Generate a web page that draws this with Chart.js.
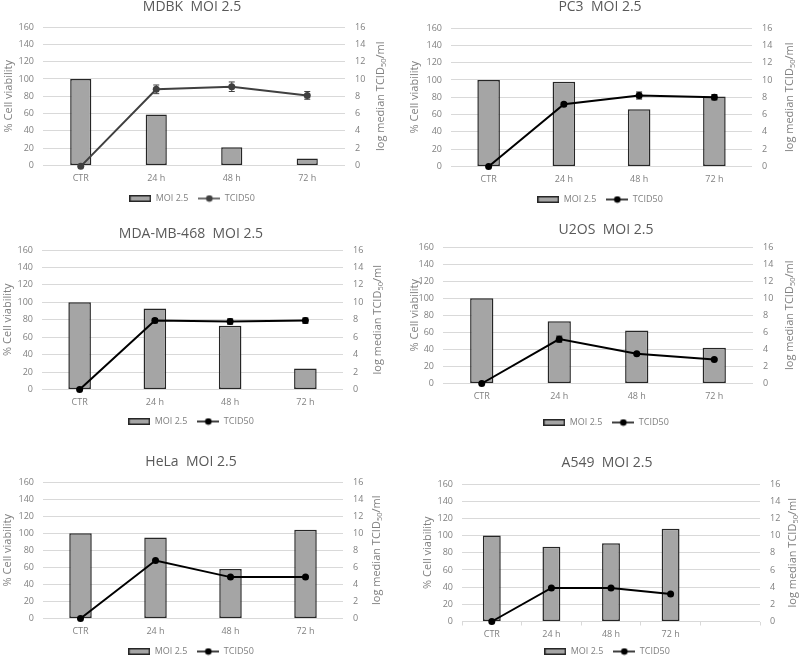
<!DOCTYPE html>
<html>
<head>
<meta charset="utf-8">
<script src="https://cdn.jsdelivr.net/npm/chart.js@4.4.1/dist/chart.umd.min.js"></script>
<style>
  body { margin: 0; background: #fff; width: 800px; height: 657px; overflow: hidden; position: relative; }
  canvas { position: absolute; }
</style>
</head>
<body>
<script>
// time points
const timeLabels = ['CTR', '24 h', '48 h', '72 h'];

// % cell viability (bars, left axis)
const mdbkViability = [100, 59, 21, 8];
const pc3Viability = [100, 98, 66, 81];
const mdaViability = [100, 93, 73, 24];
const u2osViability = [100, 73, 62, 42];
const helaViability = [100, 95, 58, 104];
const a549Viability = [100, 87, 91, 108];

// log median TCID50/ml (line, right axis) and error bars
const mdbkTcid = [-0.1, 8.8, 9.1, 8.1];
const mdbkErr = [0, 0.5, 0.55, 0.45];
const pc3Tcid = [0, 7.2, 8.2, 8.0];
const pc3Err = [0, 0.2, 0.4, 0.3];
const mdaTcid = [0, 7.9, 7.8, 7.9];
const mdaErr = [0, 0.25, 0.3, 0.3];
const u2osTcid = [0, 5.2, 3.5, 2.8];
const u2osErr = [0, 0.35, 0.15, 0.1];
const helaTcid = [0, 6.8, 4.85, 4.85];
const a549Tcid = [0, 3.9, 3.9, 3.2];

const FONT = "'Open Sans', 'DejaVu Sans', sans-serif";

// draws the axis titles (Excel style, both rotated) and the error bars
const panelExtras = {
    id: 'panelExtras',
    afterDatasetsDraw(chart, args, opts) {
        const ctx = chart.ctx;
        chart.data.datasets.forEach((ds, i) => {
            if (!ds.errors) return;
            const meta = chart.getDatasetMeta(i);
            const ys = chart.scales[ds.yAxisID];
            ctx.save();
            ctx.strokeStyle = ds.borderColor;
            ctx.lineWidth = 1;
            meta.data.forEach((pt, j) => {
                const e = ds.errors[j];
                if (!e) return;
                const top = ys.getPixelForValue(ds.data[j] + e);
                const bot = ys.getPixelForValue(ds.data[j] - e);
                ctx.beginPath();
                ctx.moveTo(pt.x, top); ctx.lineTo(pt.x, bot);
                ctx.moveTo(pt.x - 3, top); ctx.lineTo(pt.x + 3, top);
                ctx.moveTo(pt.x - 3, bot); ctx.lineTo(pt.x + 3, bot);
                ctx.stroke();
            });
            ctx.restore();
        });
    },
    afterDraw(chart, args, opts) {
        const ctx = chart.ctx;
        const area = chart.chartArea;
        const cy = (area.top + area.bottom) / 2;
        ctx.save();
        ctx.fillStyle = '#808080';
        ctx.textBaseline = 'middle';
        // left
        ctx.font = '11px ' + FONT;
        ctx.save();
        ctx.translate(opts.leftX, cy);
        ctx.rotate(-Math.PI / 2);
        ctx.textAlign = 'center';
        ctx.fillText('% Cell viability', 0, 0);
        ctx.restore();
        // right, with subscript
        const p1 = 'log median TCID', p2 = '50', p3 = '/ml';
        ctx.font = '11px ' + FONT;
        const w1 = ctx.measureText(p1).width, w3 = ctx.measureText(p3).width;
        ctx.font = '7.5px ' + FONT;
        const w2 = ctx.measureText(p2).width;
        const total = w1 + w2 + w3;
        ctx.translate(opts.rightX, cy);
        ctx.rotate(-Math.PI / 2);
        ctx.textAlign = 'left';
        let x = -total / 2;
        ctx.font = '11px ' + FONT;
        ctx.fillText(p1, x, 0);
        x += w1;
        ctx.font = '7.5px ' + FONT;
        ctx.fillText(p2, x, 3);
        x += w2;
        ctx.font = '11px ' + FONT;
        ctx.fillText(p3, x, 0);
        ctx.restore();
    }
};
Chart.register(panelExtras);

function barIcon() {
    const c = document.createElement('canvas');
    c.width = 22; c.height = 7;
    const g = c.getContext('2d');
    g.fillStyle = '#a5a5a5';
    g.fillRect(0, 0, 22, 7);
    g.strokeStyle = '#262626';
    g.lineWidth = 1.5;
    g.strokeRect(0.75, 0.75, 20.5, 5.5);
    return c;
}

function lineIcon(color) {
    const c = document.createElement('canvas');
    c.width = 22; c.height = 8;
    const g = c.getContext('2d');
    g.strokeStyle = color;
    g.fillStyle = color;
    g.lineWidth = 1.5;
    g.beginPath(); g.moveTo(0, 4); g.lineTo(22, 4); g.stroke();
    g.beginPath(); g.arc(11, 4, 3.3, 0, Math.PI * 2); g.fill();
    return c;
}

function makePanel(p) {
    const canvas = document.createElement('canvas');
    canvas.width = 400;
    canvas.height = p.h;
    canvas.style.left = p.left + 'px';
    canvas.style.top = p.top + 'px';
    document.body.appendChild(canvas);

    const labels = p.labels || timeLabels;
    const a = p.padL || 0, b = p.padR || 0;
    const lineColor = p.lineColor || '#000000';
    const icons = [barIcon(), lineIcon(lineColor)];

    new Chart(canvas.getContext('2d'), {
        data: {
            labels: labels,
            datasets: [{
                type: 'line',
                label: 'TCID50',
                data: p.tcid,
                errors: p.err,
                yAxisID: 'y1',
                borderColor: lineColor,
                backgroundColor: lineColor,
                borderWidth: 2,
                pointRadius: 3.5,
                pointBorderWidth: 0,
                pointBackgroundColor: lineColor,
                tension: 0,
                clip: false
            }, {
                type: 'bar',
                label: 'MOI 2.5',
                data: p.viability,
                yAxisID: 'y',
                backgroundColor: '#a5a5a5',
                borderColor: '#262626',
                borderWidth: 1.5,
                borderSkipped: false,
                categoryPercentage: 1,
                barPercentage: p.barFrac || 0.3
            }]
        },
        options: {
            responsive: false,
            animation: false,
            layout: { padding: { left: a, right: b, top: 0, bottom: 0 } },
            scales: {
                x: {
                    grid: p.xTicks ? {
                        display: true, drawOnChartArea: false, offset: true,
                        tickLength: 4, color: '#d9d9d9'
                    } : { display: false, drawTicks: false },
                    border: { display: false },
                    ticks: {
                        color: '#808080',
                        font: { family: FONT, size: 9 },
                        padding: p.xTicks ? 3.5 : 7.5,
                        maxRotation: 0
                    },
                    afterFit: s => { s.height = p.xH; }
                },
                y: {
                    position: 'left',
                    min: 0, max: 160,
                    ticks: { stepSize: 20, color: '#808080', font: { family: FONT, size: 9 }, padding: 9 },
                    grid: { color: '#d9d9d9', drawTicks: false },
                    border: { display: false },
                    afterFit: s => { s.width = p.L - a; }
                },
                y1: {
                    position: 'right',
                    min: 0, max: 16,
                    ticks: { stepSize: 2, color: '#808080', font: { family: FONT, size: 9 }, padding: 10 },
                    grid: { display: false, drawTicks: false },
                    border: { display: false },
                    afterFit: s => { s.width = 400 - b - p.R; }
                }
            },
            plugins: {
                title: {
                    display: true,
                    text: p.title,
                    color: '#595959',
                    font: { family: FONT, size: 14, weight: 'normal' },
                    padding: { top: 1.6, bottom: p.T - 18.4 }
                },
                legend: {
                    position: 'bottom',
                    labels: {
                        usePointStyle: true,
                        pointStyleWidth: 22,
                        boxHeight: 9,
                        padding: 10,
                        color: '#808080',
                        font: { family: FONT, size: 9 },
                        generateLabels: () => [
                            { text: 'MOI 2.5', pointStyle: icons[0], fillStyle: '#a5a5a5', strokeStyle: '#262626', lineWidth: 0, hidden: false, datasetIndex: 1, fontColor: '#808080' },
                            { text: 'TCID50', pointStyle: icons[1], fillStyle: lineColor, strokeStyle: lineColor, lineWidth: 0, hidden: false, datasetIndex: 0, fontColor: '#808080' }
                        ]
                    }
                },
                tooltip: { enabled: false },
                panelExtras: { leftX: p.leftX, rightX: p.rightX }
            }
        }
    });
}

// panel placement (canvas left/top, chart area in canvas coords)
makePanel({ title: 'MDBK  MOI 2.5', left: 0, top: -3, h: 216, L: 43, R: 345, T: 30, xH: 18.5, padR: 16,
    leftX: 9, rightX: 381, lineColor: '#404040', barFrac: 0.28,
    viability: mdbkViability, tcid: mdbkTcid, err: mdbkErr });
makePanel({ title: 'PC3  MOI 2.5', left: 400, top: -3, h: 217, L: 51, R: 352, T: 31, xH: 18.5,
    leftX: 15, rightX: 390, viability: pc3Viability, tcid: pc3Tcid, err: pc3Err });
makePanel({ title: 'MDA-MB-468  MOI 2.5', left: 0, top: 224, h: 212, L: 42, R: 343, T: 26, xH: 17.5, padR: 18,
    leftX: 8, rightX: 378, viability: mdaViability, tcid: mdaTcid, err: mdaErr });
makePanel({ title: 'U2OS  MOI 2.5', left: 400, top: 220, h: 217, L: 43, R: 353, T: 27, xH: 24.5, padL: 12,
    leftX: 15, rightX: 390, viability: u2osViability, tcid: u2osTcid, err: u2osErr });
makePanel({ title: 'HeLa  MOI 2.5', left: 0, top: 452, h: 214, L: 43, R: 343, T: 30, xH: 18.5, padR: 18,
    leftX: 8, rightX: 377, viability: helaViability, tcid: helaTcid });
makePanel({ title: 'A549  MOI 2.5', left: 400, top: 453, h: 213, L: 62, R: 360, T: 31, xH: 15.5, padL: 14,
    leftX: 28, rightX: 393, labels: [...timeLabels, ''], xTicks: true,
    viability: a549Viability, tcid: a549Tcid });
</script>
</body>
</html>
